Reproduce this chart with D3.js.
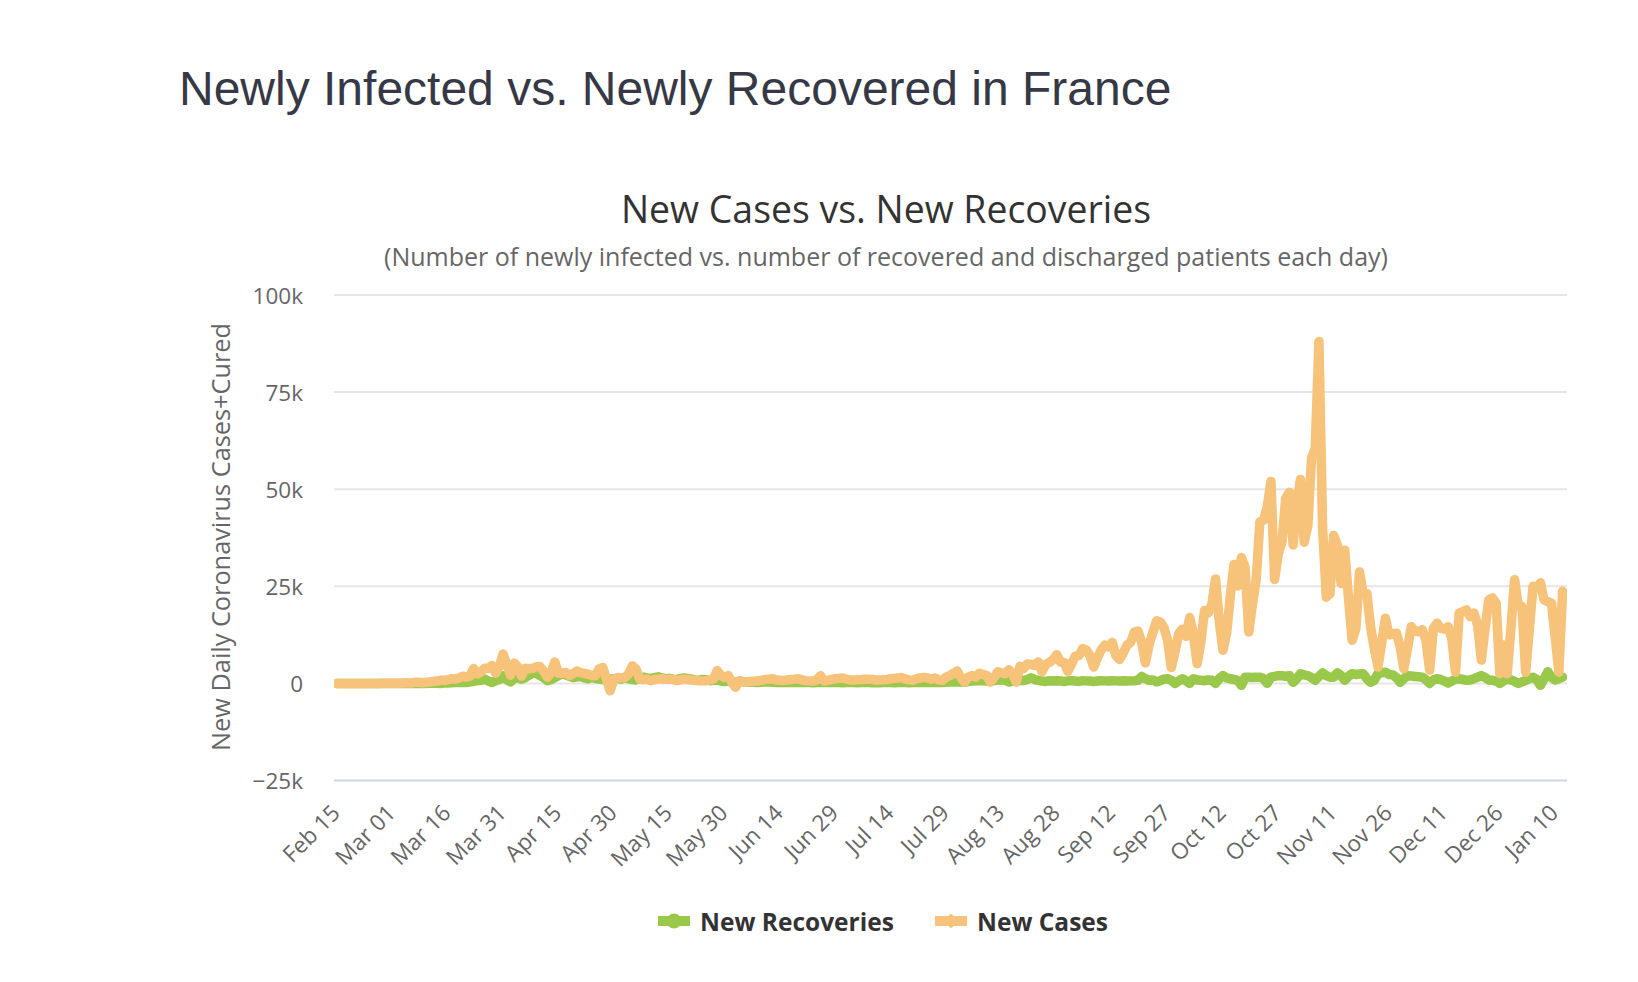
<!DOCTYPE html>
<html>
<head>
<meta charset="utf-8">
<script src="https://cdn.jsdelivr.net/npm/d3@7"></script>
<style>
  html, body { margin: 0; padding: 0; background: #ffffff; }
  svg { display: block; }
</style>
</head>
<body>
<svg id="chart" width="1638" height="982"></svg>
<script>
// ---------------- DATA ----------------
const startDate = "2020-02-15"; // first category (index 0)
const tickLabels = ["Feb 15","Mar 01","Mar 16","Mar 31","Apr 15","Apr 30","May 15","May 30","Jun 14","Jun 29","Jul 14","Jul 29","Aug 13","Aug 28","Sep 12","Sep 27","Oct 12","Oct 27","Nov 11","Nov 26","Dec 11","Dec 26","Jan 10"];
const tickEvery = 15;
const yTicks = [-25000, 0, 25000, 50000, 75000, 100000];

const newCases = [
  0,0,0,0,0,0,0,0,0,0,2,4,20,19,43,
  30,61,21,73,138,92,276,296,177,286,372,497,595,785,838,
  924,1210,1097,1404,1861,1617,1847,3838,2446,2931,3922,3809,4611,2599,4376,
  7578,4861,2116,5233,4267,1873,3912,3777,3881,4286,4342,3114,1613,2673,5497,
  2633,2641,2800,2000,2500,3200,2800,2600,2400,2000,2000,3700,4100,1100,-1900,
  1100,1500,1400,1500,2400,4500,3700,1100,1000,1100,700,1000,1100,1200,1100,
  1000,1100,700,900,1100,1000,860,800,700,650,700,900,1100,3300,2000,
  1500,2000,250,-1000,700,450,350,500,550,600,800,1000,1100,1200,900,
  800,770,900,1000,1100,1200,900,700,650,600,900,2000,600,800,1000,
  1200,1300,1400,1100,900,850,950,1000,1100,1100,1000,900,850,950,1000,
  1200,1300,1400,1500,1100,900,770,1200,1400,1550,1400,1100,1400,900,770,
  1600,2000,2600,3200,1500,350,1600,2000,1600,2600,2300,2000,350,1500,3000,
  2700,2500,3500,2500,350,4400,3800,5000,4900,4600,5500,3000,4900,5429,6111,
  7379,5453,5413,3082,4982,7017,7157,8975,8550,7071,4203,6544,8577,9843,9406,
  10561,7183,6158,7852,9784,10593,13215,13498,10569,5298,10008,13072,16096,15797,14412,
  11123,4070,8051,12845,13970,12148,16972,12565,5084,10489,18746,18129,20339,26896,16101,
  8505,12993,22591,30621,25086,32427,29837,13243,20468,26676,41622,42032,45422,52010,26771,
  33417,36437,47637,49215,35641,46290,52518,36330,40558,58046,60486,88000,40000,22200,23100,
  38100,35600,25700,34300,22000,11100,14100,28700,23100,23100,14500,9000,4200,10500,16800,
  12500,12800,12900,9500,3800,9000,14600,13500,13300,13800,11000,3400,14200,15500,14200,
  14000,14600,11500,2900,18100,18500,18900,17200,18100,15000,6000,14000,21500,22000,20700,
  2500,9900,2500,14000,26700,20000,19800,2900,14000,25000,24500,25900,21500,21000,20700,12000,2900,23700
];

const newRecoveries = [
  0,0,0,0,0,0,0,0,0,0,0,0,0,0,0,
  0,0,0,0,0,0,0,0,0,0,10,12,50,0,90,
  100,150,200,250,300,200,400,500,700,800,1100,600,250,700,1000,
  2000,900,400,1200,1500,1100,1500,2100,2600,2600,2000,1500,700,1000,1500,
  2000,2500,2200,1800,1500,1700,1800,1400,1200,1500,1300,1100,1000,900,1000,
  1200,1300,1100,1500,1200,1000,900,1300,1600,1400,1300,1500,1700,1400,1200,
  1300,1100,1000,1200,1400,1300,1100,900,800,1000,900,700,800,900,600,
  500,600,400,300,500,400,300,350,300,250,300,400,350,300,250,
  300,250,200,300,250,200,300,250,200,150,250,300,200,250,200,
  250,200,150,200,250,200,150,200,250,200,150,200,150,200,250,
  200,150,200,250,200,150,200,250,300,250,200,250,300,250,200,
  300,350,400,350,400,300,500,600,700,770,700,600,500,700,900,
  950,800,350,600,700,800,770,1000,1450,1000,770,600,500,700,600,
  700,600,500,650,700,600,500,700,650,600,500,600,700,650,600,
  700,650,600,700,600,650,700,800,1800,1200,800,900,400,700,1100,
  1200,800,0,600,1200,700,0,1200,900,800,700,900,800,0,1200,
  2000,1400,1200,1000,800,-500,1600,1600,1500,1600,1600,1200,0,1600,1800,
  2000,2000,1800,2000,300,1200,2500,2200,2000,1500,800,1800,2700,2000,1600,
  1600,2700,2000,800,1800,2500,2300,2400,2500,1200,300,800,2500,2700,2900,
  2300,2200,1500,300,1200,2000,1900,1800,1700,1600,900,0,900,1200,1000,
  600,100,600,1100,1200,1000,800,900,1200,1600,2000,1500,900,800,600,
  0,600,1200,900,500,0,400,800,1200,1600,1000,-500,1200,3000,1500,900,1200,1600
];

// ---------------- CHART ----------------
const svg = d3.select("#chart");
const FONT = "'Open Sans', 'DejaVu Sans', sans-serif";

const plot = { left: 334, right: 1567, top: 295, bottom: 780.5 };
const x = d3.scaleLinear().domain([-0.8, 333.2]).range([plot.left, plot.right]);
const y = d3.scaleLinear().domain([-25000, 100000]).range([plot.bottom, plot.top]);

// Page title
svg.append("text")
  .attr("x", 179).attr("y", 105)
  .style("font-family", "'Liberation Sans', Arial, Helvetica, sans-serif")
  .style("font-size", "48px")
  .style("fill", "#363945")
  .text("Newly Infected vs. Newly Recovered in France");

// Chart title & subtitle
const cx = 886;
svg.append("text")
  .attr("x", cx).attr("y", 223)
  .attr("text-anchor", "middle")
  .style("font-family", FONT).style("font-size", "37.4px").style("fill", "#333333")
  .text("New Cases vs. New Recoveries");
svg.append("text")
  .attr("x", cx).attr("y", 265.5)
  .attr("text-anchor", "middle")
  .style("font-family", FONT).style("font-size", "25px").style("fill", "#666666")
  .text("(Number of newly infected vs. number of recovered and discharged patients each day)");

// Grid lines
svg.append("g").selectAll("line")
  .data(yTicks.filter(v => v !== -25000))
  .join("line")
  .attr("x1", plot.left).attr("x2", plot.right)
  .attr("y1", d => y(d)).attr("y2", d => y(d))
  .attr("stroke", "#e6e6e6").attr("stroke-width", 2);

// X axis line
svg.append("line")
  .attr("x1", plot.left).attr("x2", plot.right)
  .attr("y1", y(-25000)).attr("y2", y(-25000))
  .attr("stroke", "#ccd6eb").attr("stroke-width", 2);

// Y axis labels
const yAxis = d3.axisLeft(y)
  .tickValues(yTicks)
  .tickSize(0)
  .tickPadding(31)
  .tickFormat(v => v === 0 ? "0" : (v < 0 ? "\u2212" : "") + Math.abs(v / 1000) + "k");
const gy = svg.append("g").attr("transform", `translate(${plot.left},0)`).call(yAxis);
gy.select(".domain").remove();
gy.selectAll("text")
  .style("font-family", FONT).style("font-size", "22.5px").style("fill", "#666666")
  .attr("dy", "0.36em");

// X axis labels
const tickIdx = tickLabels.map((_, i) => i * tickEvery);
const xAxis = d3.axisBottom(x)
  .tickValues(tickIdx)
  .tickSize(0)
  .tickFormat((d, i) => tickLabels[i]);
const gx = svg.append("g").attr("transform", `translate(0,${y(-25000)})`).call(xAxis);
gx.select(".domain").remove();
gx.selectAll("text")
  .attr("x", 0).attr("y", 0).attr("dy", 0)
  .attr("transform", "translate(4,34) rotate(-45)")
  .style("text-anchor", "end")
  .style("font-family", FONT).style("font-size", "22.5px").style("fill", "#666666");

// Y axis title
svg.append("text")
  .attr("transform", "translate(230,537) rotate(-90)")
  .attr("text-anchor", "middle")
  .style("font-family", FONT).style("font-size", "25.3px").style("fill", "#666666")
  .text("New Daily Coronavirus Cases+Cured");

// Clip
svg.append("defs").append("clipPath").attr("id", "plotclip")
  .append("rect")
  .attr("x", plot.left).attr("y", plot.top - 20)
  .attr("width", plot.right - plot.left).attr("height", plot.bottom - plot.top + 20);

const line = d3.line().x((d, i) => x(i)).y(d => y(d));
const series = [
  { name: "New Recoveries", values: newRecoveries, color: "#99c84b" },
  { name: "New Cases", values: newCases, color: "#f7c27a" }
];
const gLines = svg.append("g").attr("clip-path", "url(#plotclip)");
series.forEach(s => {
  gLines.append("path")
    .datum(s.values)
    .attr("d", line)
    .attr("fill", "none")
    .attr("stroke", s.color)
    .attr("stroke-width", 9.5)
    .attr("stroke-linejoin", "round")
    .attr("stroke-linecap", "round");
});

// Legend
const legend = svg.append("g");
const legendItems = [
  { s: series[0], x0: 658, tx: 700, marker: "circle" },
  { s: series[1], x0: 935, tx: 977, marker: "diamond" }
];
const ly = 921;
legendItems.forEach(it => {
  legend.append("line")
    .attr("x1", it.x0).attr("x2", it.x0 + 32)
    .attr("y1", ly).attr("y2", ly)
    .attr("stroke", it.s.color).attr("stroke-width", 10);
  if (it.marker === "circle") {
    legend.append("circle").attr("cx", it.x0 + 16).attr("cy", ly).attr("r", 7.5)
      .attr("fill", it.s.color);
  } else {
    const c = it.x0 + 16, r = 7.5;
    legend.append("path")
      .attr("d", `M${c},${ly - r}L${c + r},${ly}L${c},${ly + r}L${c - r},${ly}Z`)
      .attr("fill", it.s.color);
  }
  legend.append("text")
    .attr("x", it.tx).attr("y", ly + 10)
    .style("font-family", FONT).style("font-size", "24.5px").style("font-weight", "bold")
    .style("fill", "#333333")
    .text(it.s.name);
});
</script>
</body>
</html>
